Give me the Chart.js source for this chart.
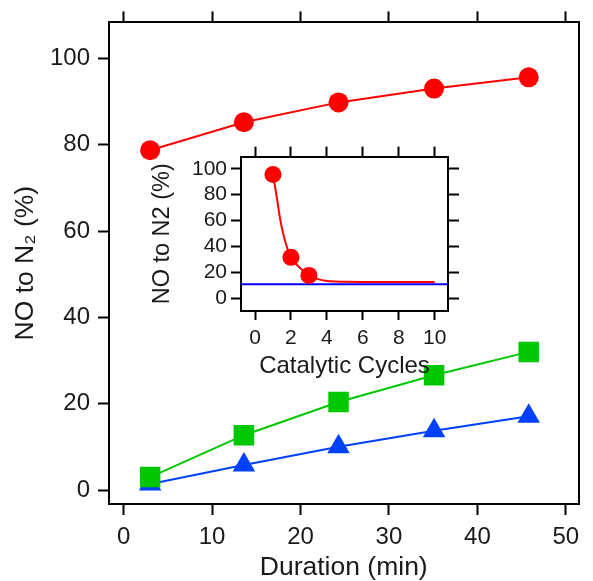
<!DOCTYPE html>
<html lang="en">
<head>
    <meta charset="UTF-8">
    <title>NO to N2 conversion</title>
    <script src="https://cdn.jsdelivr.net/npm/chart.js"></script>
    <style>
        body {
            margin: 0;
            padding: 0;
            background: #fff;
        }
        #wrap {
            position: relative;
            width: 593px;
            height: 581px;
        }
        #inset {
            position: absolute;
            left: 130px;
            top: 140px;
        }
    </style>
</head>
<body>
    <div id="wrap">
        <canvas id="mainChart" width="593" height="581"></canvas>
        <canvas id="inset" width="335" height="245"></canvas>
    </div>

    <script>
        // main panel: conversion vs duration
        const duration = [3, 13.6, 24.3, 35.1, 45.8];
        const redSeries = [78.7, 85.2, 89.8, 93.0, 95.6];
        const greenSeries = [3.0, 12.7, 20.4, 26.6, 32.0];
        const blueSeries = [1.4, 5.8, 10.0, 13.75, 17.1];

        // inset: conversion vs catalytic cycles
        const cycles = [1, 2, 3];
        const cycleValues = [95.5, 31.6, 17.7];
        const fitCycles = [1, 1.2, 1.4, 1.6, 1.8, 2, 2.5, 3, 3.5, 4, 4.5, 5, 6, 7, 8, 9, 10];
        const fitValues = [95.5, 79, 61, 48, 38.5, 31.6, 23.5, 17.7, 14.8, 13.4, 12.9, 12.7, 12.6, 12.6, 12.6, 12.6, 12.6];
        const baseLevel = 10.9;

        const xTicks = [0, 10, 20, 30, 40, 50];
        const yTicks = [0, 20, 40, 60, 80, 100];
        const insetXTicks = [0, 2, 4, 6, 8, 10];

        const FONT = 'Liberation Sans, Arial, sans-serif';
        const TXT = '#1a1a1a';

        function pts(xs, ys) {
            return xs.map((x, i) => ({ x: x, y: ys[i] }));
        }

        function frameAxis(extra) {
            return Object.assign({
                type: 'linear',
                grid: { display: true, drawOnChartArea: false, drawTicks: true, tickLength: 11, tickWidth: 2, tickColor: '#000' },
                border: { display: true, color: '#000', width: 2 },
                ticks: { display: false }
            }, extra);
        }

        new Chart(document.getElementById('mainChart'), {
            type: 'scatter',
            data: {
                datasets: [
                    {
                        label: 'green',
                        data: pts(duration, greenSeries),
                        showLine: true,
                        borderColor: '#00c800',
                        backgroundColor: '#00c800',
                        borderWidth: 2,
                        pointStyle: 'rect',
                        pointRadius: 14.5,
                        pointBorderWidth: 0
                    },
                    {
                        label: 'blue',
                        data: pts(duration, blueSeries),
                        showLine: true,
                        borderColor: '#0040ff',
                        backgroundColor: '#0040ff',
                        borderWidth: 2,
                        pointStyle: 'triangle',
                        pointRadius: 13,
                        pointBorderWidth: 0
                    },
                    {
                        label: 'red',
                        data: pts(duration, redSeries),
                        showLine: true,
                        borderColor: '#ff0000',
                        backgroundColor: '#ff0000',
                        borderWidth: 2,
                        pointStyle: 'circle',
                        pointRadius: 10,
                        pointBorderWidth: 0
                    }
                ]
            },
            options: {
                responsive: false,
                animation: false,
                layout: { padding: 0 },
                plugins: { legend: { display: false }, tooltip: { enabled: false } },
                scales: {
                    x: frameAxis({
                        position: 'bottom',
                        min: -1.65, max: 51.43,
                        afterBuildTicks: s => { s.ticks = xTicks.map(v => ({ value: v })); },
                        ticks: { display: true, padding: 8, color: TXT, font: { family: FONT, size: 24 } },
                        title: { display: true, text: 'Duration (min)', color: TXT, font: { family: FONT, size: 26.5 }, padding: { top: 0, bottom: -3 } },
                        afterFit: s => { s.height = 77; }
                    }),
                    xTop: frameAxis({
                        position: 'top',
                        min: -1.65, max: 51.43,
                        afterBuildTicks: s => { s.ticks = xTicks.map(v => ({ value: v })); },
                        afterFit: s => { s.height = 22; }
                    }),
                    y: frameAxis({
                        position: 'left',
                        min: -3.24, max: 108.33,
                        afterBuildTicks: s => { s.ticks = yTicks.map(v => ({ value: v })); },
                        ticks: { display: true, padding: 8, color: TXT, font: { family: FONT, size: 24 } },
                        title: { display: true, text: 'NO to N\u2082 (%)', color: TXT, font: { family: FONT, size: 26.5 }, padding: { top: 10, bottom: 0 } },
                        afterFit: s => { s.width = 109; }
                    }),
                    yRight: frameAxis({
                        position: 'right',
                        min: -3.24, max: 108.33,
                        grid: { display: false },
                        afterFit: s => { s.width = 2; }
                    })
                }
            }
        });

        new Chart(document.getElementById('inset'), {
            type: 'scatter',
            data: {
                datasets: [
                    {
                        label: 'cycles',
                        data: pts(cycles, cycleValues),
                        showLine: false,
                        backgroundColor: '#ff0000',
                        pointStyle: 'circle',
                        pointRadius: 8.5,
                        pointBorderWidth: 0
                    },
                    {
                        label: 'fit',
                        data: pts(fitCycles, fitValues),
                        showLine: true,
                        borderColor: '#ff0000',
                        borderWidth: 2,
                        pointRadius: 0,
                        cubicInterpolationMode: 'monotone'
                    },
                    {
                        label: 'base',
                        data: pts([-0.78, 10.74], [baseLevel, baseLevel]),
                        showLine: true,
                        borderColor: '#0000ff',
                        borderWidth: 2,
                        pointRadius: 0
                    }
                ]
            },
            options: {
                responsive: false,
                animation: false,
                layout: { padding: 0 },
                plugins: { legend: { display: false }, tooltip: { enabled: false } },
                scales: {
                    x: frameAxis({
                        position: 'bottom',
                        min: -0.78, max: 10.74,
                        grid: { display: true, drawOnChartArea: false, drawTicks: true, tickLength: 9, tickWidth: 2, tickColor: '#000' },
                        afterBuildTicks: s => { s.ticks = insetXTicks.map(v => ({ value: v })); },
                        ticks: { display: true, padding: 6, color: TXT, font: { family: FONT, size: 21 } },
                        title: { display: true, text: 'Catalytic Cycles', color: TXT, font: { family: FONT, size: 24 }, padding: { top: 0, bottom: 4 } },
                        afterFit: s => { s.height = 74; }
                    }),
                    xTop: frameAxis({
                        position: 'top',
                        min: -0.78, max: 10.74,
                        grid: { display: true, drawOnChartArea: false, drawTicks: true, tickLength: 10, tickWidth: 2, tickColor: '#000' },
                        afterBuildTicks: s => { s.ticks = insetXTicks.map(v => ({ value: v })); },
                        afterFit: s => { s.height = 13; }
                    }),
                    y: frameAxis({
                        position: 'left',
                        min: -9.8, max: 109.4,
                        grid: { display: true, drawOnChartArea: false, drawTicks: true, tickLength: 10, tickWidth: 2, tickColor: '#000' },
                        afterBuildTicks: s => { s.ticks = yTicks.map(v => ({ value: v })); },
                        ticks: { display: true, padding: 4, color: TXT, font: { family: FONT, size: 21 } },
                        title: { display: true, text: 'NO to N2 (%)', color: TXT, font: { family: FONT, size: 23.5 }, padding: { top: 18, bottom: 0 } },
                        afterFit: s => { s.width = 111; }
                    }),
                    yRight: frameAxis({
                        position: 'right',
                        min: -9.8, max: 109.4,
                        grid: { display: true, drawOnChartArea: false, drawTicks: true, tickLength: 11, tickWidth: 2, tickColor: '#000' },
                        afterBuildTicks: s => { s.ticks = yTicks.map(v => ({ value: v })); },
                        afterFit: s => { s.width = 17; }
                    })
                }
            }
        });
    </script>
</body>
</html>
